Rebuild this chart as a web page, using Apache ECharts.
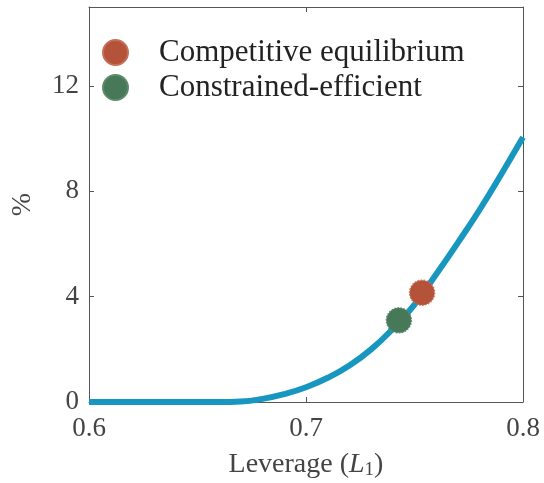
<!DOCTYPE html>
<html>
<head>
<meta charset="utf-8">
<script src="https://cdn.jsdelivr.net/npm/echarts@6/dist/echarts.min.js"></script>
<style>
  html, body { margin: 0; padding: 0; background: #fff; }
  #chart { width: 544px; height: 483px; }
</style>
</head>
<body>
<div id="chart"></div>
<script>
// leverage grid and welfare gain (%)
const leverage = [0.60, 0.61, 0.62, 0.63, 0.64, 0.65, 0.66, 0.67, 0.68, 0.69, 0.70,
                  0.71, 0.72, 0.73, 0.74, 0.75, 0.76, 0.77, 0.78, 0.79, 0.80];
const gain = [0, 0, 0, 0, 0, 0, 0, 0.02, 0.12, 0.3, 0.56,
              0.92, 1.39, 2.0, 2.78, 3.7, 4.85, 6.05, 7.3, 8.65, 10.05];

const competitive = [0.7535, 4.15];
const constrained = [0.7428, 3.1];

const xTicks = [0.6, 0.7, 0.8];
const yTicks = [0, 4, 8, 12];

const serif = '"Liberation Serif", "DejaVu Serif", serif';
const axisGray = '#555';

const chart = echarts.init(document.getElementById('chart'));

const baseX = {
  type: 'value', min: 0.6, max: 0.8, interval: 0.1,
  axisLine: {show: true, onZero: false, lineStyle: {color: axisGray, width: 1}},
  axisTick: {show: true, inside: true, length: 5, lineStyle: {color: axisGray}},
  splitLine: {show: false}
};
const baseY = {
  type: 'value', min: 0, max: 15, interval: 4,
  axisLine: {show: true, lineStyle: {color: axisGray, width: 1}},
  axisTick: {show: true, inside: true, length: 5, lineStyle: {color: axisGray}},
  splitLine: {show: false}
};

chart.setOption({
  animation: false,
  grid: {left: 89, right: 21, top: 7, bottom: 81, containLabel: false, outerBoundsMode: 'none'},
  legend: {
    orient: 'vertical',
    left: 97, top: 32,
    itemWidth: 25, itemHeight: 25, itemGap: 4,
    icon: 'circle',
    data: ['Competitive equilibrium', 'Constrained-efficient'],
    textStyle: {fontFamily: serif, fontSize: 31, color: '#222', padding: [0, 0, 0, 26]}
  },
  xAxis: [
    Object.assign({}, baseX, {
      position: 'bottom',
      name: '{a|Leverage (}{i|L}{s|1}{a|)}',
      nameLocation: 'middle', nameGap: 47,
      nameTextStyle: {
        rich: {
          a: {fontFamily: serif, fontSize: 28, color: '#444'},
          i: {fontFamily: serif, fontSize: 28, fontStyle: 'italic', color: '#444'},
          s: {fontFamily: serif, fontSize: 19, color: '#444', padding: [12, 0, 0, 0]}
        }
      },
      axisLabel: {
        fontFamily: serif, fontSize: 27, color: '#444', margin: 13,
        formatter: v => xTicks.includes(+v.toFixed(2)) ? v.toFixed(1) : ''
      }
    }),
    Object.assign({}, baseX, {position: 'top', axisLabel: {show: false}})
  ],
  yAxis: [
    Object.assign({}, baseY, {
      position: 'left',
      name: '%', nameLocation: 'middle', nameGap: 52, nameRotate: 90,
      nameTextStyle: {fontFamily: serif, fontSize: 28, color: '#444'},
      axisLabel: {
        fontFamily: serif, fontSize: 27, color: '#444', margin: 10,
        showMaxLabel: false,
        formatter: v => yTicks.includes(v) ? String(v) : ''
      }
    }),
    Object.assign({}, baseY, {position: 'right', axisLabel: {show: false}})
  ],
  series: [
    {
      name: 'welfare',
      type: 'line',
      data: leverage.map((x, i) => [x, gain[i]]),
      smooth: 0.5,
      showSymbol: false,
      lineStyle: {color: '#1796BF', width: 6},
      z: 2
    },
    {
      name: 'Constrained-efficient',
      type: 'scatter',
      data: [constrained],
      symbol: 'circle',
      symbolSize: 25,
      itemStyle: {color: '#477858', opacity: 1, borderColor: '#5E8A6D', borderWidth: 1.5, borderType: 'dotted'},
      z: 3
    },
    {
      name: 'Competitive equilibrium',
      type: 'scatter',
      data: [competitive],
      symbol: 'circle',
      symbolSize: 25,
      itemStyle: {color: '#B4533A', opacity: 1, borderColor: '#C4705A', borderWidth: 1.5, borderType: 'dotted'},
      z: 4
    }
  ]
});
</script>
</body>
</html>
